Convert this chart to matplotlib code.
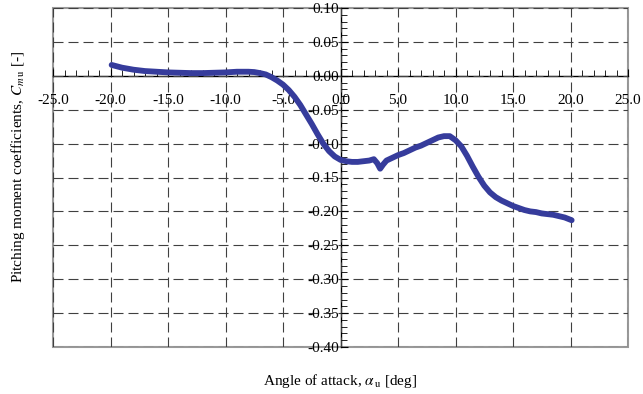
import matplotlib.pyplot as plt
from matplotlib.patches import Rectangle
from matplotlib.ticker import MultipleLocator, FormatStrFormatter

# angle of attack [deg] and pitching moment coefficient
alpha = [-19.9, -19.0, -18.0, -17.0, -16.0, -15.0, -14.0, -13.0, -12.0, -11.0,
         -10.0, -9.0, -8.0, -7.5, -7.0, -6.5, -6.0, -5.5, -5.0, -4.5,
         -4.0, -3.5, -3.0, -2.5, -2.0, -1.5, -1.0, -0.5, 0.0, 0.5,
         1.0, 1.5, 2.0, 2.5, 2.9, 3.2, 3.45, 3.7, 4.0, 4.5,
         5.0, 5.5, 6.0, 6.5, 7.0, 7.5, 8.0, 8.5, 9.0, 9.5,
         10.0, 10.5, 11.0, 11.5, 12.0, 12.5, 13.0, 13.5, 14.0, 14.5,
         15.0, 15.5, 16.0, 16.5, 17.0, 17.5, 18.0, 18.5, 19.0, 19.5, 20.1]
cm = [0.016, 0.012, 0.009, 0.007, 0.006, 0.005, 0.0045, 0.004, 0.004, 0.0045,
      0.005, 0.006, 0.006, 0.0055, 0.004, 0.002, -0.002, -0.007, -0.013, -0.021,
      -0.031, -0.043, -0.057, -0.071, -0.086, -0.100, -0.111, -0.119, -0.124, -0.126,
      -0.127, -0.127, -0.126, -0.125, -0.123, -0.129, -0.137, -0.131, -0.125, -0.121,
      -0.117, -0.114, -0.110, -0.106, -0.103, -0.099, -0.095, -0.091, -0.089, -0.089,
      -0.095, -0.104, -0.118, -0.134, -0.149, -0.162, -0.172, -0.179, -0.184, -0.188,
      -0.192, -0.195, -0.198, -0.200, -0.201, -0.203, -0.204, -0.205, -0.207, -0.209, -0.213]

plt.rcParams['font.family'] = ['Liberation Serif', 'DejaVu Serif']
plt.rcParams['mathtext.fontset'] = 'stix'

fig = plt.figure(figsize=(6.43, 3.94), dpi=100, facecolor='white')
ax = fig.add_axes([53 / 643, 1 - 347 / 394, 575 / 643, 339 / 394])

ax.plot(alpha, cm, '-', color='#363c9c', lw=4.2, solid_capstyle='round',
        solid_joinstyle='round', zorder=3)

ax.set_xlim(-25, 25)
ax.set_ylim(-0.40, 0.10)

# axes crossing at the origin, light grey outer frame
for s in ['top', 'right']:
    ax.spines[s].set_visible(False)
ax.spines['left'].set_position(('data', 0))
ax.spines['bottom'].set_position(('data', 0))
ax.spines['left'].set_linewidth(1.0)
ax.spines['bottom'].set_linewidth(1.0)
ax.add_patch(Rectangle((0, 0), 1, 1, transform=ax.transAxes, fill=False,
                       edgecolor='0.6', lw=1.5, clip_on=False, zorder=1))

ax.xaxis.set_major_locator(MultipleLocator(5))
ax.xaxis.set_minor_locator(MultipleLocator(1))
ax.yaxis.set_major_locator(MultipleLocator(0.05))
ax.yaxis.set_minor_locator(MultipleLocator(0.01))
ax.xaxis.set_major_formatter(FormatStrFormatter('%.1f'))
ax.yaxis.set_major_formatter(FormatStrFormatter('%.2f'))

ax.tick_params(axis='both', which='both', direction='in', labelsize=11,
               colors='black')
ax.tick_params(axis='x', which='major', length=5, pad=13)
ax.tick_params(axis='x', which='minor', length=4)
ax.tick_params(axis='y', which='major', length=5, pad=1)
ax.tick_params(axis='y', which='minor', length=4)

ax.grid(True, which='major', color='0.25', lw=0.8, linestyle=(0, (9, 4.5)))
ax.set_axisbelow(False)

ax.set_xlabel(r'Angle of attack, $\alpha_{\,\mathrm{u}}$ [deg]', fontsize=11)
ax.xaxis.set_label_coords(0.5, -0.075)
ax.set_ylabel(r'Pitching moment coefficients, $C_{m\,\mathrm{u}}$ [-]', fontsize=11)
ax.yaxis.set_label_coords(-0.045, 0.53)

plt.savefig('out.png', dpi=100, facecolor=fig.get_facecolor())
